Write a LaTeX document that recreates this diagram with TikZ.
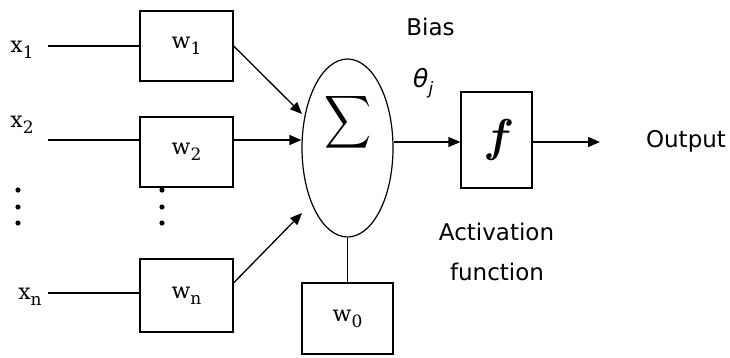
\documentclass[tikz,border=0pt]{standalone}
\usepackage{fontspec}
\setmainfont{DejaVu Serif}
\newfontfamily\sansf{DejaVu Sans}
\newfontfamily\lmfam{Latin Modern Roman}
\usetikzlibrary{shapes.geometric,arrows.meta}
\newcommand\subidx[1]{\raisebox{-6pt}{\fontsize{17}{17}\selectfont #1}}
\tikzset{
  ln/.style={line width=1.3pt},
  arr/.style={line width=1.3pt,-{Triangle[length=12pt,width=10pt]}},
  wbox/.style={draw,line width=1.3pt,minimum width=93pt,minimum height=70pt,inner sep=0pt,font=\fontsize{22}{22}\selectfont},
  inlbl/.style={inner sep=0pt,font=\fontsize{22}{22}\selectfont},
  sanslbl/.style={inner sep=0pt,font=\sansf\fontsize{23}{23}\selectfont},
  dotmark/.style={fill=black}
}
\begin{document}
\begin{tikzpicture}[x=1pt,y=-1pt]
\useasboundingbox (0,0) rectangle (730,357);
% weight boxes
\node[wbox] (w1) at (186.5,46) {w\subidx{1}\hspace{18pt}};
\node[wbox] (w2) at (186.5,152) {w\subidx{2}\hspace{18pt}};
\node[wbox,minimum height=73pt] (wn) at (186.5,295.5) {w\subidx{n}\hspace{18pt}};
\node[wbox,minimum width=91pt,minimum height=71pt] (w0) at (347.5,318.5) {w\subidx{0}\hspace{20pt}};
% summing ellipse
\node[draw,ellipse,line width=1.2pt,minimum width=91pt,minimum height=178pt,inner sep=0pt] (neuron) at (347.5,148) {};
\node[inner sep=0pt] (sig) at (348,122.5) {\resizebox*{47pt}{59pt}{$\displaystyle\sum$}};
% activation box
\node[draw,line width=1.3pt,minimum width=71pt,minimum height=96pt,inner sep=0pt,font=\lmfam\fontsize{46}{46}\selectfont\bfseries\itshape] (f) at (496.5,140) {f\hspace{10pt}};
% input labels
\node[inlbl,anchor=base] (x1) at (22,52) {x\subidx{1}};
\node[inlbl,anchor=base] (x2) at (22,127) {x\subidx{2}};
\node[inlbl,anchor=base] (xn) at (30,299) {x\subidx{n}};
% text labels
\node[sanslbl,anchor=base] (bias) at (430.5,35) {Bias};
\node[inner sep=0pt,anchor=base west,font=\sansf\itshape\fontsize{25}{25}\selectfont] (theta) at (413,87) {θ\raisebox{-7pt}{\fontsize{17}{17}\selectfont j}};
\node[sanslbl,anchor=base] (act1) at (496.5,240) {Activation};
\node[sanslbl,anchor=base] (act2) at (497,280) {function};
\node[sanslbl,anchor=base] (out) at (686,147) {Output};
% connectors
\coordinate (a1) at (48,46);
\coordinate (a2) at (48,140);
\coordinate (an) at (48,293);
\coordinate (t1) at (302,114);
\coordinate (tn) at (302,213);
\coordinate (m) at (600,142);
\draw[ln] (a1) -- (w1.west);
\draw[ln] (a2) -- (a2 -| w2.west);
\draw[ln] (an) -- (an -| wn.west);
\draw[arr] (w1.east) -- (t1);
\draw[arr] (a2 -| w2.east) -- (a2 -| neuron.west);
\draw[arr] (wn.15) -- (tn);
\draw[ln] (neuron.south) -- (w0.north);
\draw[arr] (m -| neuron.east) -- (m -| f.west);
\draw[arr] (m -| f.east) -- (m);
% ellipsis dots
\foreach \yy in {190,207,223} {
  \fill[dotmark] (18,\yy) circle (2.6pt);
  \fill[dotmark] (162,\yy) circle (2.6pt);
}
\end{tikzpicture}
\end{document}
